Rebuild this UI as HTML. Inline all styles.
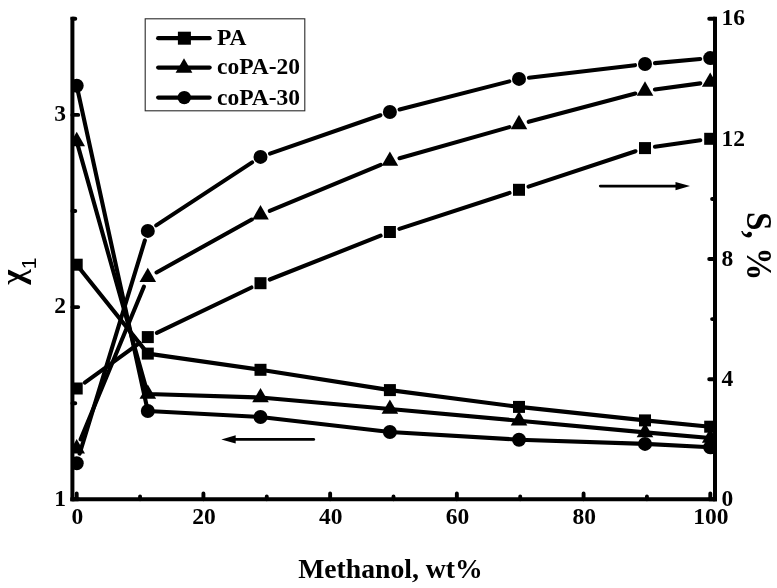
<!DOCTYPE html>
<html><head><meta charset="utf-8"><title>Chart</title>
<style>html,body{margin:0;padding:0;background:#fff}body{width:777px;height:588px;overflow:hidden}</style>
</head><body>
<svg width="777" height="588" viewBox="0 0 777 588" style="display:block">
<rect width="777" height="588" fill="#fff"/>
<defs><clipPath id="cp"><rect x="72.4" y="0" width="642.6" height="499.3"/></clipPath></defs>
<g clip-path="url(#cp)">
<line x1="84.80" y1="382.64" x2="139.70" y2="342.96" stroke="#000" stroke-width="4.1" stroke-linecap="round"/>
<line x1="156.82" y1="332.79" x2="251.48" y2="287.51" stroke="#000" stroke-width="4.1" stroke-linecap="round"/>
<line x1="269.80" y1="279.52" x2="380.60" y2="235.68" stroke="#000" stroke-width="4.1" stroke-linecap="round"/>
<line x1="399.41" y1="228.89" x2="509.49" y2="192.91" stroke="#000" stroke-width="4.1" stroke-linecap="round"/>
<line x1="528.49" y1="186.66" x2="635.51" y2="151.24" stroke="#000" stroke-width="4.1" stroke-linecap="round"/>
<line x1="654.90" y1="146.69" x2="700.30" y2="140.21" stroke="#000" stroke-width="4.1" stroke-linecap="round"/>
<line x1="80.53" y1="439.46" x2="143.97" y2="286.54" stroke="#000" stroke-width="4.1" stroke-linecap="round"/>
<line x1="156.54" y1="272.44" x2="251.76" y2="219.56" stroke="#000" stroke-width="4.1" stroke-linecap="round"/>
<line x1="269.74" y1="210.87" x2="380.66" y2="164.83" stroke="#000" stroke-width="4.1" stroke-linecap="round"/>
<line x1="399.52" y1="158.27" x2="509.38" y2="127.13" stroke="#000" stroke-width="4.1" stroke-linecap="round"/>
<line x1="528.66" y1="121.83" x2="635.34" y2="93.47" stroke="#000" stroke-width="4.1" stroke-linecap="round"/>
<line x1="654.91" y1="89.55" x2="700.29" y2="83.35" stroke="#000" stroke-width="4.1" stroke-linecap="round"/>
<line x1="79.63" y1="453.64" x2="144.87" y2="240.46" stroke="#000" stroke-width="4.1" stroke-linecap="round"/>
<line x1="156.16" y1="225.41" x2="252.14" y2="162.39" stroke="#000" stroke-width="4.1" stroke-linecap="round"/>
<line x1="269.95" y1="153.62" x2="380.45" y2="115.28" stroke="#000" stroke-width="4.1" stroke-linecap="round"/>
<line x1="399.59" y1="109.52" x2="509.31" y2="81.38" stroke="#000" stroke-width="4.1" stroke-linecap="round"/>
<line x1="528.93" y1="77.73" x2="635.07" y2="65.17" stroke="#000" stroke-width="4.1" stroke-linecap="round"/>
<line x1="654.96" y1="63.10" x2="700.24" y2="59.00" stroke="#000" stroke-width="4.1" stroke-linecap="round"/>
<polyline points="76.70,264.70 147.80,353.60 260.50,369.80 389.90,390.10 519.00,406.90 645.00,420.40 710.20,426.70" fill="none" stroke="#000" stroke-width="4.1" stroke-linejoin="round"/>
<polyline points="76.70,141.40 147.80,394.00 260.50,397.50 389.90,409.00 519.00,420.70 645.00,432.40 710.20,438.00" fill="none" stroke="#000" stroke-width="4.1" stroke-linejoin="round"/>
<polyline points="76.70,85.70 147.80,411.00 260.50,417.00 389.90,432.00 519.00,439.70 645.00,443.90 710.20,447.30" fill="none" stroke="#000" stroke-width="4.1" stroke-linejoin="round"/>
<g fill="#000"><rect x="70.70" y="382.50" width="12.0" height="12.0"/><rect x="141.80" y="331.10" width="12.0" height="12.0"/><rect x="254.50" y="277.20" width="12.0" height="12.0"/><rect x="383.90" y="226.00" width="12.0" height="12.0"/><rect x="513.00" y="183.80" width="12.0" height="12.0"/><rect x="639.00" y="142.10" width="12.0" height="12.0"/><rect x="704.20" y="132.80" width="12.0" height="12.0"/></g>
<g fill="#000"><rect x="70.70" y="258.70" width="12.0" height="12.0"/><rect x="141.80" y="347.60" width="12.0" height="12.0"/><rect x="254.50" y="363.80" width="12.0" height="12.0"/><rect x="383.90" y="384.10" width="12.0" height="12.0"/><rect x="513.00" y="400.90" width="12.0" height="12.0"/><rect x="639.00" y="414.40" width="12.0" height="12.0"/><rect x="704.20" y="420.70" width="12.0" height="12.0"/></g>
<g fill="#000"><polygon points="76.70,439.12 68.40,453.49 85.00,453.49"/><polygon points="147.80,267.72 139.50,282.09 156.10,282.09"/><polygon points="260.50,205.12 252.20,219.49 268.80,219.49"/><polygon points="389.90,151.42 381.60,165.79 398.20,165.79"/><polygon points="519.00,114.82 510.70,129.19 527.30,129.19"/><polygon points="645.00,81.32 636.70,95.69 653.30,95.69"/><polygon points="710.20,72.42 701.90,86.79 718.50,86.79"/></g>
<g fill="#000"><polygon points="76.70,131.82 68.40,146.19 85.00,146.19"/><polygon points="147.80,384.42 139.50,398.79 156.10,398.79"/><polygon points="260.50,387.92 252.20,402.29 268.80,402.29"/><polygon points="389.90,399.42 381.60,413.79 398.20,413.79"/><polygon points="519.00,411.12 510.70,425.49 527.30,425.49"/><polygon points="645.00,422.82 636.70,437.19 653.30,437.19"/><polygon points="710.20,428.42 701.90,442.79 718.50,442.79"/></g>
<g fill="#000"><circle cx="76.70" cy="463.20" r="7.0"/><circle cx="147.80" cy="230.90" r="7.0"/><circle cx="260.50" cy="156.90" r="7.0"/><circle cx="389.90" cy="112.00" r="7.0"/><circle cx="519.00" cy="78.90" r="7.0"/><circle cx="645.00" cy="64.00" r="7.0"/><circle cx="710.20" cy="58.10" r="7.0"/></g>
<g fill="#000"><circle cx="76.70" cy="85.70" r="7.0"/><circle cx="147.80" cy="411.00" r="7.0"/><circle cx="260.50" cy="417.00" r="7.0"/><circle cx="389.90" cy="432.00" r="7.0"/><circle cx="519.00" cy="439.70" r="7.0"/><circle cx="645.00" cy="443.90" r="7.0"/><circle cx="710.20" cy="447.30" r="7.0"/></g>
</g>
<g stroke="#000" stroke-width="4.0" fill="none" stroke-linecap="butt">
<path d="M72.4,16.8 V501.3"/>
<path d="M715.0,16.8 V501.3"/>
<path d="M70.4,499.3 H717.0"/>
</g>
<path d="M72.4,499.30 h5.8 M72.4,403.20 h2.9 M72.4,307.10 h5.8 M72.4,211.00 h2.9 M72.4,114.90 h5.8 M72.4,18.80 h2.9 M715.0,499.30 h-5.8 M715.0,439.24 h-2.9 M715.0,379.18 h-5.8 M715.0,319.11 h-2.9 M715.0,259.05 h-5.8 M715.0,198.99 h-2.9 M715.0,138.93 h-5.8 M715.0,78.86 h-2.9 M715.0,18.80 h-5.8 M76.70,499.3 v-5.8 M140.06,499.3 v-2.9 M203.42,499.3 v-5.8 M266.78,499.3 v-2.9 M330.14,499.3 v-5.8 M393.50,499.3 v-2.9 M456.86,499.3 v-5.8 M520.22,499.3 v-2.9 M583.58,499.3 v-5.8 M646.94,499.3 v-2.9 M710.30,499.3 v-5.8" stroke="#000" stroke-width="3.9" fill="none" stroke-linecap="round"/>
<g font-family="'Liberation Serif', 'Times New Roman', serif" font-weight="bold" font-size="23.5" fill="#000">
<text x="66" y="505.50" text-anchor="end">1</text>
<text x="66" y="313.30" text-anchor="end">2</text>
<text x="66" y="121.10" text-anchor="end">3</text>
<text x="721.5" y="505.90">0</text>
<text x="721.5" y="385.78">4</text>
<text x="721.5" y="265.65">8</text>
<text x="721.5" y="145.53">12</text>
<text x="721.5" y="25.40">16</text>
<text x="77.30" y="524" text-anchor="middle">0</text>
<text x="204.02" y="524" text-anchor="middle">20</text>
<text x="330.74" y="524" text-anchor="middle">40</text>
<text x="457.46" y="524" text-anchor="middle">60</text>
<text x="584.18" y="524" text-anchor="middle">80</text>
<text x="710.90" y="524" text-anchor="middle">100</text>
</g>
<text x="390.5" y="577.6" text-anchor="middle" font-family="'Liberation Serif', serif" font-weight="bold" font-size="27.7" fill="#000">Methanol, wt%</text>
<text transform="translate(747.4,246.2) rotate(90) scale(1.02,1.07)" text-anchor="middle" font-family="'Liberation Serif', serif" font-weight="bold" font-size="32.5" fill="#000">S, %</text>
<text transform="translate(23.5,277) rotate(-90)" text-anchor="middle" font-family="'Liberation Serif', serif" font-weight="bold" font-size="33" fill="#000">χ</text>
<text transform="translate(36.3,263.5) rotate(-90)" text-anchor="middle" font-family="'Liberation Sans', sans-serif" font-size="21" fill="#000">1</text>
<g stroke="#000" stroke-width="2.8" fill="#000" stroke-linecap="round">
<line x1="600.3" y1="186.1" x2="680" y2="186.1"/><polygon points="690,186.1 675.5,181.9 675.5,190.3" stroke="none"/>
<line x1="313.7" y1="439.4" x2="231" y2="439.4"/><polygon points="221.3,439.4 235.7,435.2 235.7,443.6" stroke="none"/>
</g>
<rect x="145.2" y="18.8" width="159.6" height="92" fill="#fff" stroke="#2a2a2a" stroke-width="1.1"/>
<line x1="158.2" y1="38.2" x2="209.6" y2="38.2" stroke="#000" stroke-width="4.3" stroke-linecap="round"/>
<line x1="158.2" y1="67.6" x2="209.6" y2="67.6" stroke="#000" stroke-width="4.3" stroke-linecap="round"/>
<line x1="158.2" y1="97.6" x2="209.6" y2="97.6" stroke="#000" stroke-width="4.3" stroke-linecap="round"/>
<g fill="#000"><rect x="177.90" y="31.70" width="13.0" height="13.0"/><polygon points="184.00,58.25 175.60,72.80 192.40,72.80"/><circle cx="184.30" cy="97.60" r="6.7"/></g>
<g font-family="'Liberation Serif', serif" font-weight="bold" font-size="23.5" fill="#000">
<text x="217" y="44.8">PA</text>
<text x="217" y="74.4">coPA-20</text>
<text x="217" y="104.5">coPA-30</text>
</g>
</svg>
</body></html>
